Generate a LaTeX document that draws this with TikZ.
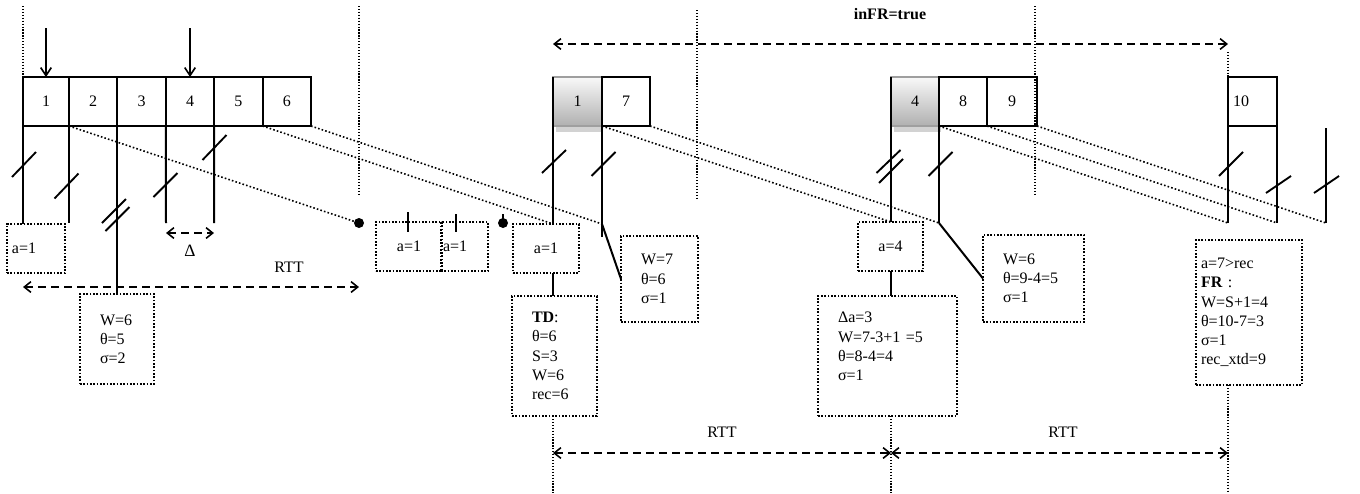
\documentclass[tikz,border=0pt]{standalone}
\usepackage{fontspec}
\setmainfont{Liberation Serif}
\usetikzlibrary{arrows.meta,calc}
\begin{document}
\begin{tikzpicture}[x=0.75pt,y=-0.75pt,
  font=\fontsize{12}{14.4}\selectfont,
  seg/.style={draw, line width=1.4pt, minimum height=36.75pt, inner sep=0pt, outer sep=0pt},
  shd/.style={seg, draw=gray!75, top color=gray!5, bottom color=gray!62},
  dbox/.style={draw, line width=1.3pt, dash pattern=on 1.3pt off 1.2pt, inner sep=0pt, outer sep=0pt, minimum height=36.75pt},
  vl/.style={line width=1.5pt},
  sl/.style={line width=1.4pt},
  vdot/.style={line width=0.9pt, dash pattern=on 0.9pt off 1.3pt},
  dd/.style={line width=1.2pt, dash pattern=on 1.2pt off 1.6pt},
  darr/.style={line width=1.2pt, dash pattern=on 6pt off 3.75pt,
    arrows={Straight Barb[length=5pt,width=8pt]-Straight Barb[length=5pt,width=8pt]}},
  downarr/.style={line width=1.2pt, arrows={-Straight Barb[length=6pt,width=8pt]}},
  dot/.style={circle, fill, inner sep=0pt, minimum size=7.5pt},
  tick/.style={line width=1.6pt}
]
\useasboundingbox (0,0) rectangle (1360,493);
\fill[white] (0,0) rectangle (1360,493);

% free end coordinates
\coordinate (e2) at (69,223);
\coordinate (e4) at (166,223);
\coordinate (e5) at (214,223);
\coordinate (k7a) at (602,212);
\coordinate (k7b) at (602,237);
\coordinate (k7m) at (602,224);
\coordinate (k8) at (939,223);
\coordinate (k10a) at (1228,223);
\coordinate (k10b) at (1277,223);
\coordinate (k11t) at (1326,128);
\coordinate (k11b) at (1326,223);

% thin dotted time lines
\draw[vdot] (23,6) -- (23,223);
\draw[vdot] (359,6) -- (359,196);
\draw[vdot] (697,10) -- (697,198);
\draw[vdot] (1035,6) -- (1035,195);
\draw[vdot] (1228,52) -- (k10a);

% shadows of shaded boxes
\fill[gray!35] (556,126) rectangle (603,132);
\fill[gray!35] (894,126) rectangle (941,132);

% segment boxes
\node[seg, minimum width=34.5pt] (b1) at (46,101.5) {1};
\node[seg, minimum width=36.3pt] (b2) at (93.2,101.5) {2};
\node[seg, minimum width=36.3pt] (b3) at (141.6,101.5) {3};
\node[seg, minimum width=36.3pt] (b4) at (190,101.5) {4};
\node[seg, minimum width=36.3pt] (b5) at (238.4,101.5) {5};
\node[seg, minimum width=36.3pt] (b6) at (286.8,101.5) {6};
\node[shd, minimum width=36.75pt] (m1) at (577.5,101.5) {1};
\node[seg, minimum width=36pt] (m7) at (626,101.5) {7};
\node[shd, minimum width=36pt] (b4m) at (915,101.5) {4};
\node[seg, minimum width=36pt] (b8) at (963,101.5) {8};
\node[seg, minimum width=37.5pt] (b9) at (1012,101.5) {9};
\node[seg, minimum width=36.75pt, text width=29.25pt, inner xsep=3.75pt, align=left] (b10) at (1252.5,101.5) {10};
\draw[line width=1.4pt] (m1.north west) -- (m1.south west);
\draw[line width=1.4pt] (b4m.north west) -- (b4m.south west);
\draw[line width=1.8pt] (b10.north west) -- (b10.south west);

% dotted text boxes
\node[dbox, minimum width=43.5pt, text width=36pt, inner xsep=3.75pt, align=left] (aL) at (36,248.5) {a=1};
\node[dbox, minimum width=55.5pt, minimum height=67.5pt, text width=25.5pt, inner xsep=15pt, align=left] (wL) at (117,339) {W=6\\θ=5\\σ=2};
\node[dbox, minimum width=49.5pt] (aA) at (409,246.5) {a=1};
\node[dbox, minimum width=35.25pt, text width=32.25pt, inner xsep=1.5pt, align=left] (aB) at (464.5,246.5) {a=1};
\node[dbox, minimum width=49.5pt] (aM) at (546,248.5) {a=1};
\node[dbox, minimum width=63.75pt, minimum height=90pt, text width=33.75pt, inner xsep=15pt, align=left] (td) at (554.5,356) {\textbf{TD}:\\θ=6\\S=3\\W=6\\rec=6};
\node[dbox, minimum width=57.75pt, minimum height=64.5pt, text width=27.75pt, inner xsep=15pt, align=left] (w7) at (659.5,279) {W=7\\θ=6\\σ=1};
\node[dbox, minimum width=48.75pt] (a4) at (890.5,246.5) {a=4};
\node[dbox, minimum width=104.25pt, minimum height=90pt, text width=74.25pt, inner xsep=15pt, align=left] (dab) at (887.5,356) {Δa=3\\W=7-3+1 =5\\θ=8-4=4\\σ=1\\\mbox{}};
\node[dbox, minimum width=75.75pt, minimum height=65.25pt, text width=45.75pt, inner xsep=15pt, align=left] (w6) at (1033.5,278.5) {W=6\\θ=9-4=5\\σ=1};
\node[dbox, minimum width=79.5pt, minimum height=108.75pt, text width=72pt, inner xsep=3.75pt, align=left] (fr) at (1249,312.5) {a=7>rec\\\textbf{FR} :\\W=S+1=4\\θ=10-7=3\\σ=1\\rec\_xtd=9};

% lost-packet dots
\node[dot] (d1) at (359,223) {};
\node[dot] (d2) at (503,223) {};
\draw[tick] (d2.center) -- ++(0,-9);
\draw[tick] (408,212) -- (408,232);
\draw[tick] (456,214) -- (456,232);

% lower dotted time lines
\draw[vdot] (b10.south west |- fr.south) -- (1228,493);
\draw[vdot] (m1.south west |- td.south) -- (553,493);
\draw[vdot] (b4m.south west |- dab.south) -- (891,493);

% vertical packet lines
\draw[vl] (b1.south west) -- (b1.south west |- aL.north);
\draw[vl] (b2.south west) -- (e2);
\draw[vl] (b3.south west) -- (b3.south west |- wL.north);
\draw[vl] (b4.south west) -- (e4);
\draw[vl] (b5.south west) -- (e5);
\draw[vl] (m1.south west) -- (m1.south west |- aM.north);
\draw[vl] (m1.south west |- aM.south) -- (m1.south west |- td.north);
\draw[vl] (m7.south west) -- (k7a);
\draw[line width=2.2pt] (k7a) -- (k7b);
\draw[vl] (k7m) -- (w7.west);
\draw[vl] (b4m.south west) -- (b4m.south west |- a4.north);
\draw[vl] (b4m.south west |- a4.south) -- (b4m.south west |- dab.north);
\draw[vl] (b8.south west) -- (k8);
\draw[vl] (k8) -- (w6.west);
\draw[line width=1.8pt] (b10.south west) -- (k10a);
\draw[vl] (b10.south east) -- (k10b);
\draw[vl] (k11t) -- (k11b);

% slashes
\draw[sl] (24,164.5) ++(-12,12.5) -- ++(24,-25);
\draw[sl] (66.5,186) ++(-12,12.5) -- ++(24,-25);
\draw[sl] (114,211) ++(-12,12) -- ++(24,-24);
\draw[sl] (117.5,219) ++(-12,12) -- ++(24,-24);
\draw[sl] (165.5,185) ++(-12,12) -- ++(24,-24);
\draw[sl] (214.5,147.5) ++(-12,12.5) -- ++(24,-25);
\draw[sl] (554,161.5) ++(-12,11.5) -- ++(24,-23);
\draw[sl] (603.5,164) ++(-12,12) -- ++(24,-24);
\draw[sl] (888.5,161.5) ++(-12,11.5) -- ++(24,-23);
\draw[sl] (891,171) ++(-12,12) -- ++(24,-24);
\draw[sl] (940.5,164) ++(-12,12) -- ++(24,-24);
\draw[sl] (1231,164) ++(-12,12) -- ++(24,-24);
\draw[sl] (1278.5,184.5) ++(-12.5,8.5) -- ++(25,-17);
\draw[sl] (1326.5,184.5) ++(-12.5,8.5) -- ++(25,-17);

% dotted transmission lines
\draw[dd] (b2.south west) -- (d1);
\draw[dd] (b6.south west) -- (m1.south west |- aM.north);
\draw[dd] (b6.south east) -- (k7m);
\draw[dd] (m1.south east) -- (b4m.south west |- a4.north);
\draw[dd] (m7.south east) -- (k8);
\draw[dd] (b8.south west) -- (k10a);
\draw[dd] (b9.south west) -- (k10b);
\draw[dd] (b9.south east) -- (k11b);

% arrows
\draw[downarr] ($(b1.north)+(0,-49)$) -- (b1.north);
\draw[downarr] ($(b4.north)+(0,-49)$) -- (b4.north);

\coordinate (r1a) at (23,287);
\coordinate (r1b) at (359,287);
\draw[darr] (r1a) -- (r1b);
\node (rtt1) at (289,267) {RTT};
\coordinate (dl1) at (166,233);
\coordinate (dl2) at (214,233);
\draw[darr] (dl1) -- (dl2);
\node[font=\fontsize{13}{15}\selectfont] (delta) at (190,251) {Δ};
\coordinate (f1) at (553,44);
\coordinate (f2) at (1228,44);
\draw[darr] (f1) -- (f2);
\node[font=\fontsize{12}{14}\selectfont\bfseries] (infr) at (890,14) {inFR=true};
\coordinate (r2a) at (553,453);
\coordinate (r2b) at (891,453);
\coordinate (r2c) at (1228,453);
\draw[darr] (r2a) -- (r2b);
\draw[darr] (r2b) -- (r2c);
\node (rtt2) at (722,432) {RTT};
\node (rtt3) at (1063,432) {RTT};
\end{tikzpicture}
\end{document}
